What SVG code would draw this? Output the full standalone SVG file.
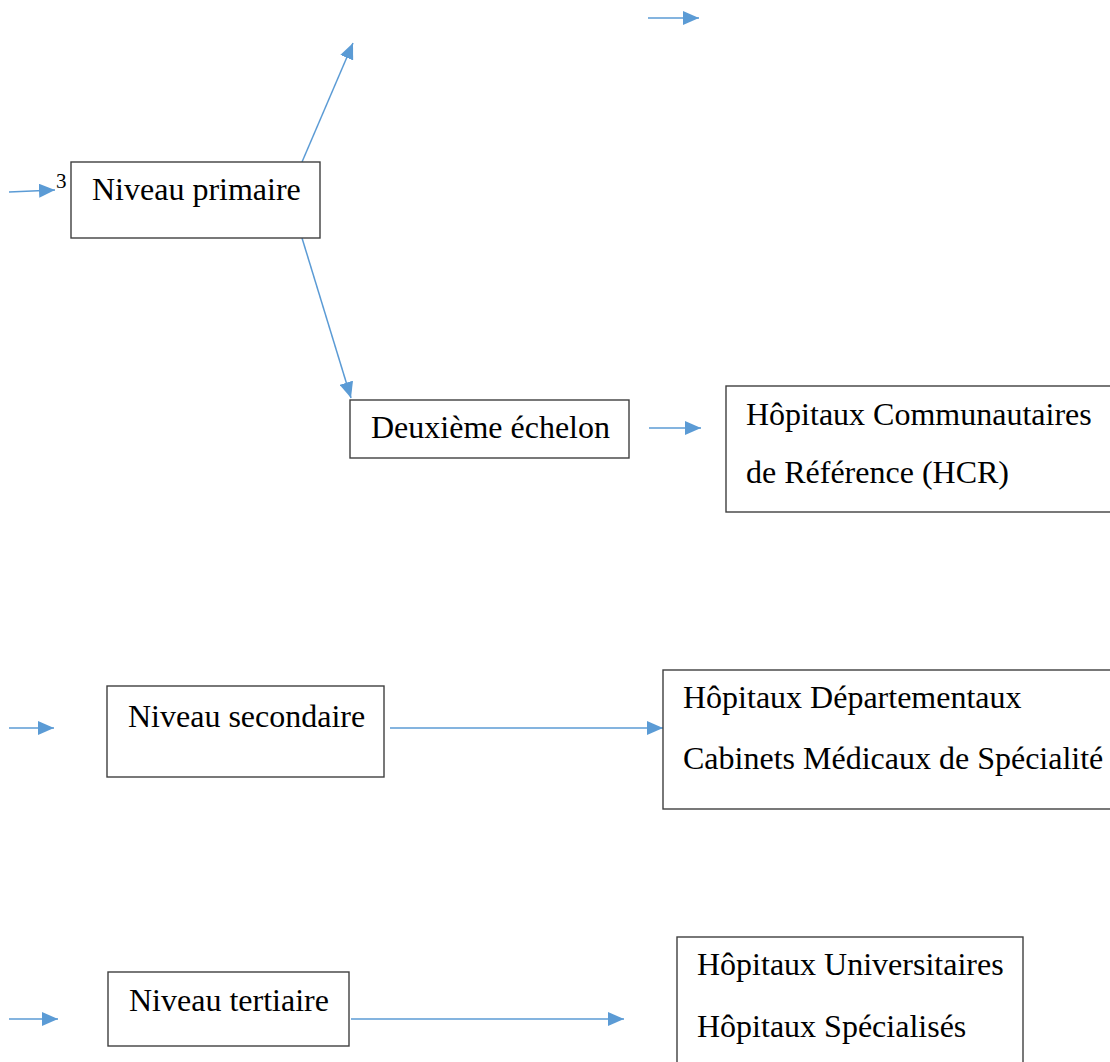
<svg xmlns="http://www.w3.org/2000/svg" width="1110" height="1062" viewBox="0 0 1110 1062">
<style>
.box{fill:#fff;stroke:#3f3f3f;stroke-width:1.4}
.t{font-family:"Liberation Serif","Times New Roman",serif;font-size:32px;fill:#000}
.sup{font-family:"Liberation Serif","Times New Roman",serif;font-size:21px;fill:#000}
.c{stroke:#5B9BD5;stroke-width:1.5;fill:none;marker-end:url(#ah)}
</style>
<defs>
<marker id="ah" viewBox="0 0 16 14" refX="16" refY="7" markerWidth="16" markerHeight="14" markerUnits="userSpaceOnUse" orient="auto">
<path d="M0,0 L16,7 L0,14 z" fill="#5B9BD5"/>
</marker>
</defs>
<rect width="1110" height="1062" fill="#fff"/>
<g id="connectors">
<line class="c" x1="9" y1="192" x2="55" y2="190"/>
<line class="c" x1="302" y1="162" x2="353" y2="43"/>
<line class="c" x1="302" y1="238" x2="351" y2="398"/>
<line class="c" x1="648" y1="18" x2="699" y2="18"/>
<line class="c" x1="649" y1="428" x2="701" y2="428"/>
<line class="c" x1="9" y1="728" x2="54" y2="728"/>
<line class="c" x1="390" y1="728" x2="663" y2="728"/>
<line class="c" x1="9" y1="1019" x2="58" y2="1019"/>
<line class="c" x1="351" y1="1019" x2="624" y2="1019"/>
</g>
<g id="sup3"><text class="sup" x="56" y="188">3</text></g>
<g id="niveau-primaire">
<rect class="box" x="71" y="162" width="249" height="76"/>
<text class="t" x="92" y="200">Niveau primaire</text>
</g>
<g id="deuxieme-echelon">
<rect class="box" x="350" y="400" width="279" height="58"/>
<text class="t" x="371" y="438">Deuxième échelon</text>
</g>
<g id="hcr">
<rect class="box" x="726" y="386" width="420" height="126"/>
<text class="t" x="746" y="425">Hôpitaux Communautaires</text>
<text class="t" x="746" y="483">de Référence (HCR)</text>
</g>
<g id="niveau-secondaire">
<rect class="box" x="107" y="686" width="277" height="91"/>
<text class="t" x="128" y="727">Niveau secondaire</text>
</g>
<g id="departementaux">
<rect class="box" x="663" y="670" width="480" height="139"/>
<text class="t" x="683" y="708">Hôpitaux Départementaux</text>
<text class="t" x="683" y="769">Cabinets Médicaux de Spécialité</text>
</g>
<g id="niveau-tertiaire">
<rect class="box" x="108" y="972" width="241" height="74"/>
<text class="t" x="129" y="1011">Niveau tertiaire</text>
</g>
<g id="universitaires">
<rect class="box" x="677" y="937" width="346" height="140"/>
<text class="t" x="697" y="975">Hôpitaux Universitaires</text>
<text class="t" x="697" y="1037">Hôpitaux Spécialisés</text>
</g>
</svg>
